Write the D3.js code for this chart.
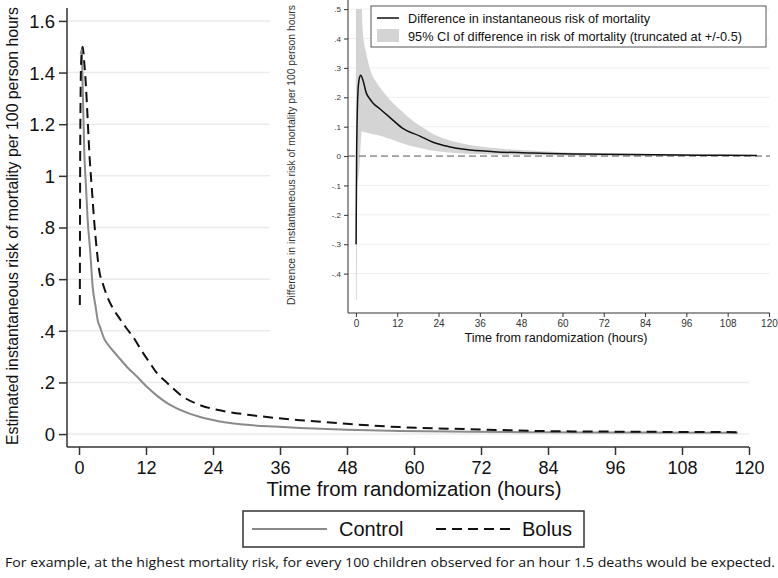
<!DOCTYPE html>
<html><head><meta charset="utf-8">
<script src="https://cdn.jsdelivr.net/npm/d3@7"></script>
<style>body{margin:0;background:#fff}svg{display:block}</style>
</head><body><svg id="c" width="778" height="578"></svg>
<script>
// ---- Main chart data ----
const controlTimes = [0.3,0.5,0.66,0.95,1.25,1.55,2.0,2.45,3.0,3.35,3.76,4.5,5.55,7,8.6,10.5,12.2,14,15.8,18,21.7,25,30.6,35,39.6,48,57.5,70,85,100,118];
const controlValues = [1.47,1.49,1.35,1.09,0.96,0.83,0.71,0.57,0.49,0.44,0.415,0.37,0.337,0.30,0.26,0.22,0.182,0.148,0.12,0.095,0.066,0.05,0.035,0.029,0.024,0.017,0.012,0.009,0.007,0.006,0.005];
const bolusTimes = [0.15,0.2,0.28,0.4,0.66,0.9,1.25,1.55,1.85,2.3,2.7,3.2,3.6,4.3,5.1,6,7.2,8.5,9.7,11,12.7,14,15.8,18.6,21,23.5,27,30.6,35,39.6,48.5,57.5,70,83.8,100,118.4];
const bolusValues = [0.5,1.0,1.3,1.45,1.5,1.45,1.345,1.22,1.09,0.95,0.83,0.71,0.636,0.58,0.53,0.49,0.45,0.41,0.376,0.33,0.275,0.235,0.198,0.145,0.118,0.1,0.085,0.074,0.063,0.054,0.039,0.027,0.019,0.0116,0.009,0.0075];
const mainYTicks = [0,0.2,0.4,0.6,0.8,1,1.2,1.4,1.6];
const mainYLabels = ["0",".2",".4",".6",".8","1","1.2","1.4","1.6"];
const xTicks = [0,12,24,36,48,60,72,84,96,108,120];
const seriesNames = ["Control","Bolus"];

// ---- Inset data ----
const diffTimes = [0.05,0.2,0.35,0.6,1.0,1.4,2,3,4,5,7,10,13.5,18.6,22.4,27,32,40,51.5,65,80,100,116.5];
const diffValues = [-0.3,0.0,0.12,0.22,0.265,0.275,0.26,0.215,0.195,0.18,0.16,0.13,0.095,0.068,0.047,0.032,0.022,0.015,0.01,0.007,0.005,0.003,0.002];
const ciTimes = [0,0.25,0.35,0.6,1.0,1.5,1.7,2,3,4,6,8,10,12.8,15,17.7,20,22.4,26,32,40,51.5,60,71,85,100,116.5];
const ciUpper = [0.5,0.5,0.5,0.5,0.5,0.5,0.5,0.42,0.35,0.30,0.25,0.218,0.19,0.158,0.135,0.11,0.093,0.075,0.058,0.04,0.027,0.018,0.013,0.009,0.007,0.005,0.004];
const ciLower = [-0.49,-0.49,-0.1,-0.08,-0.04,0.06,0.085,0.083,0.08,0.077,0.072,0.066,0.058,0.046,0.038,0.03,0.024,0.018,0.013,0.008,0.005,0.003,0.002,0.001,0.0005,0,0];
const insetYTicks = [-0.4,-0.3,-0.2,-0.1,0,0.1,0.2,0.3,0.4,0.5];
const insetYLabels = ["-.4","-.3","-.2","-.1","0",".1",".2",".3",".4",".5"];
const insetLegend = ["Difference in instantaneous risk of mortality","95% CI of difference in risk of mortality (truncated at +/-0.5)"];

const svg = d3.select("#c");
const FONT = "'Liberation Sans', Arial, sans-serif";

// ===== Main chart =====
const x = d3.scaleLinear().domain([-2.15,120]).range([67,749]);
const y = d3.scaleLinear().domain([-0.05,1.65]).range([447,8]);

const g = svg.append("g");
g.selectAll("line.grid").data(mainYTicks).join("line")
  .attr("x1",67).attr("x2",749).attr("y1",d=>y(d)).attr("y2",d=>y(d))
  .attr("stroke","#ebebeb").attr("stroke-width",1.5);

const line = d3.line().x(d=>x(d[0])).y(d=>y(d[1])).curve(d3.curveMonotoneX);
const ctrl = controlTimes.map((t,i)=>[t,controlValues[i]]);
const bol = bolusTimes.map((t,i)=>[t,bolusValues[i]]);
g.append("path").attr("d",line(ctrl)).attr("fill","none").attr("stroke","#8a8a8a").attr("stroke-width",2);
g.append("path").attr("d",line(bol)).attr("fill","none").attr("stroke","#111").attr("stroke-width",2).attr("stroke-dasharray","10,6");

// axes
const yAxis = g.append("g").attr("transform","translate(67,0)")
  .call(d3.axisLeft(y).tickValues(mainYTicks).tickFormat((d,i)=>mainYLabels[i]).tickSize(8).tickPadding(4));
yAxis.select(".domain").attr("d","M0,8V447").attr("stroke","#333").attr("stroke-width",1.5);
yAxis.selectAll(".tick line").attr("stroke","#333").attr("stroke-width",1.5);
yAxis.selectAll("text").attr("font-family",FONT).attr("font-size",18.5).attr("fill","#111").attr("dy","0.35em");

const xAxis = g.append("g").attr("transform","translate(0,447)")
  .call(d3.axisBottom(x).tickValues(xTicks).tickFormat(d3.format("d")).tickSize(8).tickPadding(6));
xAxis.select(".domain").attr("d","M67,0H749").attr("stroke","#333").attr("stroke-width",1.5);
xAxis.selectAll(".tick line").attr("stroke","#333").attr("stroke-width",1.5);
xAxis.selectAll("text").attr("font-family",FONT).attr("font-size",18).attr("fill","#111");

g.append("text").attr("x",414).attr("y",496).attr("text-anchor","middle")
  .attr("font-family",FONT).attr("font-size",20.5).attr("fill","#111")
  .attr("textLength",295).attr("lengthAdjust","spacingAndGlyphs")
  .text("Time from randomization (hours)");
g.append("text").attr("transform","translate(18,226) rotate(-90)").attr("text-anchor","middle")
  .attr("font-family",FONT).attr("font-size",16).attr("fill","#111")
  .attr("textLength",438).attr("lengthAdjust","spacingAndGlyphs")
  .text("Estimated instantaneous risk of mortality per 100 person hours");

// main legend
const lg = g.append("g");
lg.append("rect").attr("x",243).attr("y",511).attr("width",341).attr("height",36)
  .attr("fill","#fff").attr("stroke","#333").attr("stroke-width",1.5);
lg.append("line").attr("x1",252).attr("x2",327).attr("y1",529).attr("y2",529).attr("stroke","#8a8a8a").attr("stroke-width",2);
lg.append("text").attr("x",339).attr("y",536).attr("font-family",FONT).attr("font-size",20).attr("fill","#111").text(seriesNames[0]);
lg.append("line").attr("x1",436).attr("x2",512).attr("y1",529).attr("y2",529).attr("stroke","#111").attr("stroke-width",2).attr("stroke-dasharray","10,6");
lg.append("text").attr("x",522).attr("y",536).attr("font-family",FONT).attr("font-size",20).attr("fill","#111").text(seriesNames[1]);

// footnote
svg.append("text").attr("x",5).attr("y",567).attr("font-family","'Open Sans','Noto Sans',sans-serif")
  .attr("font-size",13).attr("fill","#111").attr("textLength",770).attr("lengthAdjust","spacingAndGlyphs")
  .text("For example, at the highest mortality risk, for every 100 children observed for an hour 1.5 deaths would be expected.");

// ===== Inset =====
const ig = svg.append("g");
ig.append("rect").attr("x",270).attr("y",0).attr("width",508).attr("height",346).attr("fill","#fff");
const ix = d3.scaleLinear().domain([-2.3,120.3]).range([348,770]);
const iy = d3.scaleLinear().domain([-0.534,0.531]).range([313,0]);

ig.selectAll("line.igrid").data(insetYTicks.filter(d=>d!==0)).join("line")
  .attr("x1",348).attr("x2",770).attr("y1",d=>iy(d)).attr("y2",d=>iy(d))
  .attr("stroke","#efefef").attr("stroke-width",1);

const band = ciTimes.map((t,i)=>[t,ciLower[i],ciUpper[i]]);
ig.append("path").attr("d",d3.area().x(d=>ix(d[0])).y0(d=>iy(d[1])).y1(d=>iy(d[2])).curve(d3.curveMonotoneX)(band))
  .attr("fill","#d4d4d4");
ig.append("line").attr("x1",348).attr("x2",770).attr("y1",iy(0)).attr("y2",iy(0))
  .attr("stroke","#555").attr("stroke-width",1).attr("stroke-dasharray","7,4");
const diff = diffTimes.map((t,i)=>[t,diffValues[i]]);
ig.append("path").attr("d",d3.line().x(d=>ix(d[0])).y(d=>iy(d[1])).curve(d3.curveMonotoneX)(diff))
  .attr("fill","none").attr("stroke","#111").attr("stroke-width",1.5);

const iya = ig.append("g").attr("transform","translate(348,0)")
  .call(d3.axisLeft(iy).tickValues(insetYTicks).tickFormat((d,i)=>insetYLabels[i]).tickSize(4).tickPadding(3));
iya.select(".domain").attr("d","M0,0V313").attr("stroke","#333").attr("stroke-width",1);
iya.selectAll(".tick line").attr("stroke","#333");
iya.selectAll("text").attr("font-family",FONT).attr("font-size",8).attr("fill","#333");

const ixa = ig.append("g").attr("transform","translate(0,313)")
  .call(d3.axisBottom(ix).tickValues(xTicks).tickFormat(d3.format("d")).tickSize(4).tickPadding(3));
ixa.select(".domain").attr("d","M348,0H770").attr("stroke","#333").attr("stroke-width",1);
ixa.selectAll(".tick line").attr("stroke","#333");
ixa.selectAll("text").attr("font-family",FONT).attr("font-size",10).attr("fill","#333");

ig.append("text").attr("x",556).attr("y",342).attr("text-anchor","middle")
  .attr("font-family",FONT).attr("font-size",12.6).attr("fill","#111")
  .attr("textLength",183).attr("lengthAdjust","spacingAndGlyphs")
  .text("Time from randomization (hours)");
ig.append("text").attr("transform","translate(295,155) rotate(-90)").attr("text-anchor","middle")
  .attr("font-family",FONT).attr("font-size",10.4).attr("fill","#333")
  .attr("textLength",300).attr("lengthAdjust","spacingAndGlyphs")
  .text("Difference in instantaneous risk of mortality per 100 person hours");

const il = ig.append("g");
il.append("rect").attr("x",371).attr("y",6).attr("width",395).attr("height",41)
  .attr("fill","#fff").attr("stroke","#555").attr("stroke-width",1);
il.append("line").attr("x1",377).attr("x2",399).attr("y1",18).attr("y2",18).attr("stroke","#111").attr("stroke-width",1.5);
il.append("text").attr("x",408).attr("y",22.5).attr("font-family",FONT).attr("font-size",12.7).attr("fill","#111")
  .attr("textLength",242).attr("lengthAdjust","spacingAndGlyphs").text(insetLegend[0]);
il.append("rect").attr("x",377).attr("y",29).attr("width",22).attr("height",13).attr("fill","#d4d4d4");
il.append("text").attr("x",408).attr("y",40.5).attr("font-family",FONT).attr("font-size",12.7).attr("fill","#111")
  .attr("textLength",334).attr("lengthAdjust","spacingAndGlyphs").text(insetLegend[1]);
</script></body></html>
